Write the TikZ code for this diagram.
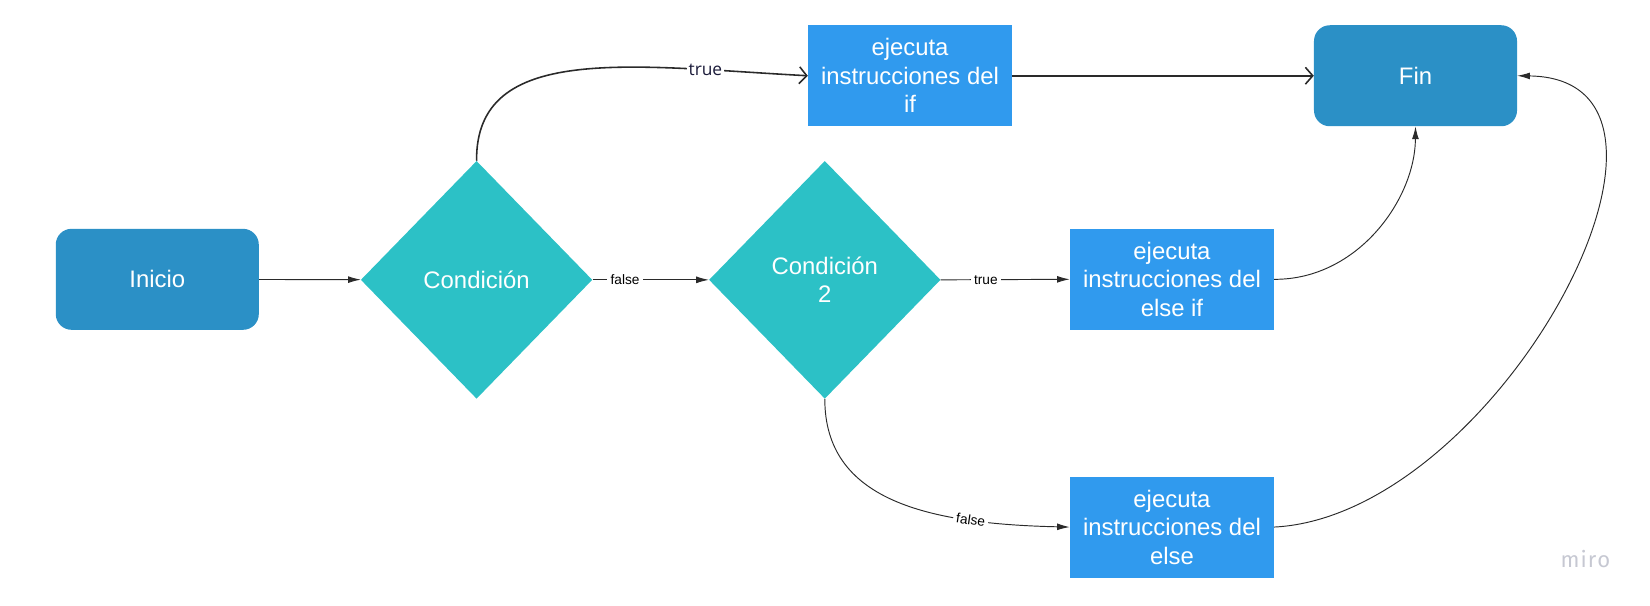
\documentclass[tikz,border=0pt]{standalone}
\usepackage{fontspec}
\setmainfont{Liberation Sans}
\newfontfamily\labelfont{Open Sans}
\newfontfamily\logofont{Fira Sans}
\usetikzlibrary{shapes.geometric,arrows.meta}
\definecolor{termblue}{HTML}{2B90C6}
\definecolor{condteal}{HTML}{2CC1C6}
\definecolor{procblue}{HTML}{309AEE}
\definecolor{linegray}{HTML}{2A2A2A}
\definecolor{navy}{HTML}{1B1B3A}
\definecolor{logogray}{HTML}{C6C8D2}
\begin{document}
\begin{tikzpicture}[x=1pt,y=-1pt,
  boxtext/.style={text=white, font=\fontsize{22.7}{27}\selectfont, align=center, inner sep=0pt},
  terminal/.style={boxtext, fill=termblue, rounded corners=15pt, minimum width=193pt, minimum height=96pt},
  process/.style={boxtext, fill=procblue, minimum width=194pt, minimum height=96pt},
  decision/.style={boxtext, diamond, fill=condteal, minimum width=220pt, minimum height=226pt},
  thinflow/.style={draw=linegray, line width=0.9pt, -{Latex[length=12pt,width=6.5pt]}},
  thickflow/.style={draw=linegray, line width=1.5pt, -{Straight Barb[length=7pt,width=16pt]}},
  smalllabel/.style={fill=white, font=\fontsize{13}{15}\selectfont, inner sep=3pt, text=black},
  toplabel/.style={fill=white, font=\labelfont\fontsize{16.5}{18}\selectfont, text=navy, inner sep=2pt},
]
\useasboundingbox (0,0) rectangle (1568.4,575.1);

\node[terminal] (inicio) at (149.5,265.5) {Inicio};
\node[decision] (cond1) at (453,266) {Condición};
\node[decision] (cond2) at (784,266) {Condición\\2};
\node[process] (ifbox) at (865,72) {ejecuta\\instrucciones del\\if};
\node[terminal] (fin) at (1345.5,72) {Fin};
\node[process] (elifbox) at (1114,265.5) {ejecuta\\instrucciones del\\else if};
\node[process] (elsebox) at (1114,501) {ejecuta\\instrucciones del\\else};
\node[text=logogray, font=\logofont\fontsize{21}{23}\selectfont] (logo) at (1507,531) {m\kern1pt i\kern1pt r\kern1pt o};

\draw[thinflow] (inicio) -- (cond1);
\draw[thinflow] (cond1.east) -- node[smalllabel, pos=0.28]{false} (cond2.west);
\draw[thinflow] (cond2.east) -- node[smalllabel, pos=0.35]{true} (elifbox.west);
\draw[thickflow] (cond1.north) .. controls (452,40) and (600,63) .. node[toplabel, pos=0.8]{true} (ifbox.west);
\draw[thickflow] (ifbox) -- (fin);
\draw[thinflow] (cond2.south) .. controls (784,475) and (880,498) .. node[smalllabel, pos=0.75, sloped]{false} (elsebox.west);
\draw[thinflow] (elifbox.east) .. controls (1290,266) and (1345,190) .. (fin.south);
\draw[thinflow] (elsebox.east) .. controls (1425,490) and (1645,75) .. (fin.east);
\end{tikzpicture}
\end{document}
